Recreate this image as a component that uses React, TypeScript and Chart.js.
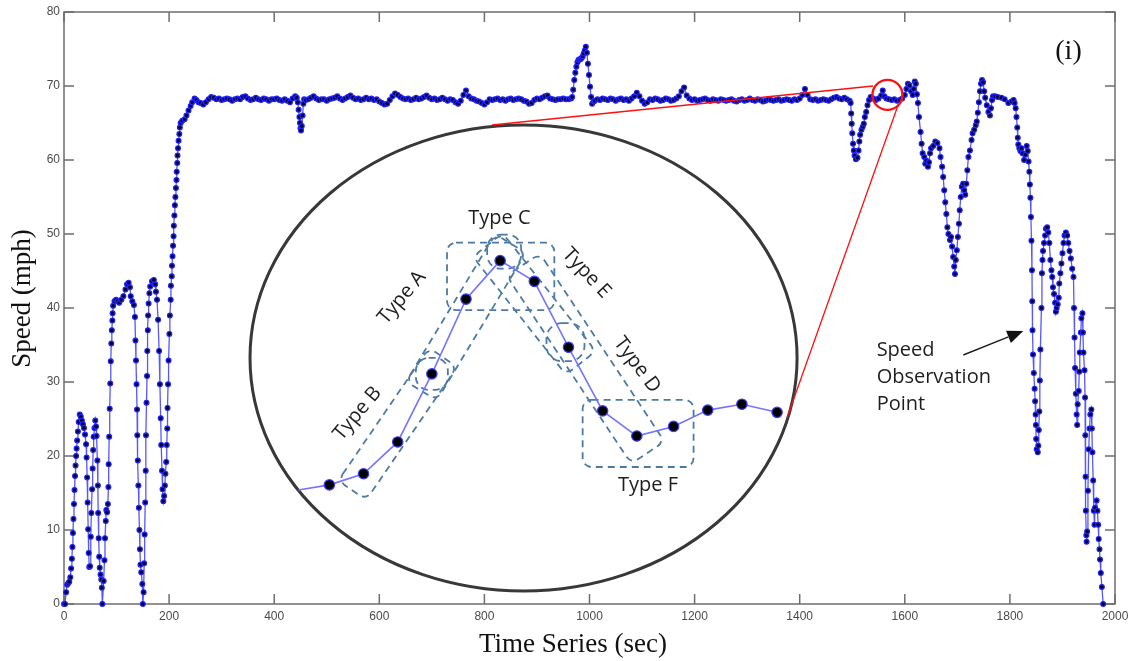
import React, { useEffect, useRef } from 'react';
import { Chart, registerables } from 'chart.js';

Chart.register(...registerables);

// ---------------- data (time in sec, speed in mph) ----------------
const xTickValues = [0, 200, 400, 600, 800, 1000, 1200, 1400, 1600, 1800, 2000];
const yTickValues = [0, 10, 20, 30, 40, 50, 60, 70, 80];

const launchTimes = [
  0, 2, 4, 6, 8, 10, 12, 13.5, 15, 16,
  17, 18, 19, 20, 21, 22, 23, 24, 25, 26.5,
  28, 30, 32, 34, 36, 38, 40, 42, 43, 44,
  45, 46, 47, 48, 49.5, 51, 52, 53.5, 54.5, 55.5,
  56.5, 58, 59.5, 61, 62, 63.5, 64.5, 65, 66, 67,
  68, 69.5, 71, 72, 73, 75.5, 77, 78, 79.5, 80.5,
  82, 83.5, 84.5, 85, 86, 87, 88, 89, 90, 91,
  92, 92.5, 93.5, 96, 99, 102, 105, 109, 113, 117,
  120, 123, 125.5, 127, 130, 133, 135, 136, 137, 138,
  139, 139.5, 140.5, 141.5, 142.5, 143.5, 144.5, 145.5, 147, 149,
  150, 151.5, 152.5, 153.5, 154.5, 155.5, 156, 157, 158, 158.5,
  159.5, 160, 161, 162.5, 164, 167.5, 171, 173.5, 175, 177,
  179, 181, 182.5, 184, 185, 186.5, 187.5, 189, 190.5, 192,
  193, 194.5, 195.5, 196.5, 197, 198, 199, 200.5, 201.5, 203,
  203.5, 205, 205.5, 206.5, 207.5, 208.5, 209, 210, 211, 212,
  213, 214, 214.5, 215.5, 216, 217, 218, 219.5, 220.5, 222,
  225, 229.5, 233, 237, 241, 244, 248.5, 252, 256,
];
const launchSpeeds = [
  0, 0, 1.6, 2.6, 2.8, 3.0, 3.6, 4.8, 6.1, 7.7,
  9.6, 11.5, 13.5, 15.4, 17.3, 18.7, 20.0, 21.0, 22.1, 23.3,
  24.6, 25.6, 25.3, 24.8, 24.3, 23.8, 22.9, 21.6, 19.8, 17.1,
  13.7, 10.1, 6.9, 5.0, 5.1, 9.1, 12.3, 15.5, 18.3, 20.8,
  22.6, 23.8, 24.8, 24.0, 22.7, 19.4, 16.0, 12.3, 8.9, 6.4,
  4.9, 4.0, 3.3, 2.2, 0, 3.1, 5.9, 8.9, 11.2, 12.7,
  12.4, 13.5, 15.8, 18.9, 22.6, 26.4, 29.8, 32.8, 35.2, 37.0,
  38.3, 39.3, 40.3, 40.9, 41.1, 40.9, 40.7, 41.1, 41.6, 42.5,
  43.2, 43.4, 42.8, 41.6, 40.9, 40.4, 38.8, 35.6, 32.9, 29.7,
  26.3, 22.8, 19.4, 16.0, 13.0, 10.0, 7.4, 5.3, 4.3, 2.7,
  0, 1.6, 5.5, 9.4, 13.7, 18.0, 22.8, 27.2, 30.8, 34.2,
  37.0, 39.0, 40.6, 42.0, 42.9, 43.6, 43.8, 43.2, 42.2, 41.1,
  38.4, 34.2, 29.7, 25.1, 21.5, 18.0, 15.5, 13.9, 14.6, 16.0,
  17.6, 19.2, 21.5, 23.7, 26.5, 29.7, 32.9, 36.5, 39.0, 41.1,
  43.0, 44.3, 45.7, 47.0, 48.4, 49.7, 51.1, 52.5, 53.9, 55.0,
  56.2, 57.3, 58.4, 59.6, 60.6, 61.6, 62.6, 63.5, 64.4, 65.0,
  65.3, 65.5, 66.0, 66.7, 67.3, 67.8, 68.3, 68.1, 67.8,
];

const cruiseStep = 5;
const cruise1Start = 260;
const cruise1Speeds = [
  67.7, 67.5, 67.8, 68.2, 68.5, 68.4, 68.2, 68.3, 68.1, 68.2,
  68.3, 68.2, 68.0, 68.2, 68.3, 68.2, 68.5, 68.6, 68.3, 68.1,
  68.2, 68.4, 68.2, 68.1, 68.3, 68.2, 68.0, 68.2, 68.2, 68.3,
  68.1, 68.0, 68.2, 68.0, 67.8, 68.3, 68.6,
];

const dipTimes = [443, 445, 446.5, 448, 449, 450, 451, 452.5, 454, 455.5, 457];
const dipSpeeds = [68.4, 67.8, 66.8, 65.8, 65.0, 64.3, 64.0, 64.6, 66.0, 67.6, 68.2];

const cruise2Start = 460;
const cruise2Speeds = [
  68.1, 68.2, 68.4, 68.6, 68.3, 68.1, 68.2, 68.2, 68.0, 68.2,
  68.3, 68.4, 68.6, 68.3, 68.1, 68.3, 68.5, 68.7, 68.4, 68.2,
  68.3, 68.1, 68.2, 68.4, 68.2, 68.3, 68.1, 68.2, 67.9, 67.7,
  67.5, 67.6, 68.1, 68.6, 69.0, 68.8, 68.5, 68.3, 68.2, 68.3,
  68.1, 68.2, 68.4, 68.2, 68.3, 68.5, 68.7, 68.4, 68.2, 68.3,
  68.1, 68.2, 68.4, 68.2, 68.0, 68.2, 68.1, 67.8, 67.6, 68.0,
  68.8, 69.4, 68.6, 68.3, 68.2, 68.0, 67.9, 67.7, 67.5, 67.8,
  68.2, 68.1, 68.2, 68.3, 68.1, 68.2, 68.0, 68.2, 68.3, 68.1,
  68.2, 68.3, 68.2, 68.0, 67.9, 67.6, 67.7, 68.1, 68.3, 68.2,
  68.4, 68.6, 68.7, 68.3, 68.2, 68.1, 68.2, 68.2, 68.3, 68.2,
  68.2, 68.3,
];

const spikeTimes = [967, 969, 971, 973, 975, 977, 979, 981, 983, 985, 987, 989, 991, 993, 995, 997, 999, 1001, 1003, 1005, 1008];
const spikeSpeeds = [68.5, 69.5, 70.8, 71.8, 72.6, 73.2, 73.5, 73.6, 73.6, 73.8, 74.0, 74.4, 74.8, 75.3, 74.5, 73.0, 71.5, 69.9, 68.5, 67.6, 67.9];

const cruise3Start = 1010;
const cruise3Speeds = [
  68.0, 68.2, 68.1, 68.3, 68.2, 68.1, 68.3, 68.2, 68.0, 68.2,
  68.3, 68.1, 68.2, 68.0, 68.3, 68.6, 69.1, 68.6, 68.0, 67.6,
  67.8, 68.2, 68.1, 68.3, 68.2, 68.0, 68.1, 68.3, 68.2, 68.0,
  68.1, 68.3, 68.6, 69.3, 69.8, 68.7, 68.3, 68.1, 68.2, 68.0,
  68.1, 68.2, 68.3, 68.1, 68.0, 68.2, 68.1, 68.0, 68.2, 68.1,
  68.0, 68.1, 68.2, 68.0, 67.9, 68.1, 68.2, 68.0, 68.1, 68.3,
  68.1, 68.0, 68.2, 68.1, 67.9, 68.0, 68.2, 68.1, 68.0, 68.1,
  68.2, 68.0, 68.1, 68.2, 68.1, 68.0, 68.2, 68.1, 68.3, 68.8,
  69.6, 68.8, 68.2, 68.1, 68.2, 68.0, 68.1, 68.2, 68.1, 68.0,
  68.2, 68.4, 68.5, 68.3, 68.2, 68.4, 68.2, 68.0,
];

const exitTimes = [
  1497, 1498, 1499, 1500, 1501.5, 1503, 1504.5, 1507, 1510, 1512,
  1513.5, 1515, 1517.5, 1520, 1522, 1524, 1526.5, 1529, 1532, 1535,
  1540, 1545, 1550, 1555, 1558, 1561, 1565, 1570, 1575, 1580,
  1585, 1590, 1595, 1600, 1603, 1606, 1609, 1612, 1615, 1617,
  1619, 1621, 1623, 1625, 1627, 1630, 1632, 1634, 1637, 1639,
  1641, 1644, 1646, 1648, 1650, 1654, 1658, 1662, 1666, 1668,
  1671, 1673, 1675, 1677, 1679, 1681, 1683, 1686, 1688, 1690,
  1692, 1694, 1695.5, 1697, 1699, 1701, 1703, 1704.5, 1706.5, 1708.5,
  1711, 1713, 1715, 1717, 1719, 1721, 1724, 1727, 1729, 1732,
  1735, 1737, 1739, 1741, 1743, 1745, 1747, 1749, 1751, 1753,
  1756, 1759, 1762, 1764, 1766, 1768, 1772, 1777, 1784, 1790,
  1797, 1803, 1807, 1809, 1811, 1812.5, 1814, 1815, 1816, 1818,
  1820, 1822, 1824, 1827, 1829.5, 1832, 1834, 1835.5, 1837, 1838,
  1839, 1840, 1841, 1842, 1842.5, 1843, 1844, 1845.5, 1847, 1848,
  1849, 1849.5, 1850, 1851, 1853, 1854, 1855, 1856, 1857, 1858,
  1860, 1861, 1862, 1863, 1865, 1867, 1868.5, 1871, 1873, 1875,
  1877, 1879, 1880.5, 1882, 1884, 1886, 1887.5, 1889, 1891, 1893,
  1894, 1896, 1898, 1900, 1902, 1904, 1906.5, 1909, 1911, 1913.5,
  1916, 1918.5, 1921, 1922, 1923, 1924, 1925.5, 1927, 1928, 1929,
  1931, 1932, 1933, 1935, 1936, 1938, 1939, 1940, 1942, 1943,
  1943.5, 1944, 1944.5, 1945.5, 1946, 1947, 1948.5, 1950, 1951.5, 1953,
  1955, 1956, 1957, 1958.5, 1959.5, 1961, 1962, 1965, 1966.5, 1968,
  1969, 1970.5, 1971.5, 1973, 1975, 1977.5,
];
const exitSpeeds = [
  67.7, 66.3, 64.9, 63.6, 62.2, 61.3, 60.6, 60.1, 60.3, 61.3,
  62.5, 63.4, 64.1, 64.5, 64.9, 65.8, 66.5, 67.4, 68.1, 68.5,
  68.3, 68.1, 68.3, 68.7, 69.4, 68.6, 68.3, 68.2, 68.1, 68.2,
  68.0, 68.1, 68.3, 68.8, 69.6, 70.3, 70.1, 69.3, 68.8, 69.6,
  70.6, 70.3, 68.9, 67.7, 65.8, 63.8, 62.2, 60.9, 60.4, 59.5,
  59.9, 59.1, 59.7, 60.9, 61.6, 61.9, 62.5, 62.3, 61.6, 60.4,
  59.1, 57.7, 55.9, 54.3, 52.7, 50.9, 50.0, 49.2, 49.6, 48.3,
  46.9, 45.6, 44.6, 46.5, 47.8, 49.6, 51.4, 53.2, 55.0, 56.4,
  56.8, 55.9, 55.3, 56.8, 58.6, 60.4, 61.3, 62.7, 63.6, 64.1,
  64.7, 65.2, 66.4, 67.8, 69.3, 70.3, 70.8, 70.5, 69.3, 68.4,
  67.4, 66.5, 66.0, 67.0, 68.1, 68.6, 68.6, 68.5, 68.4, 68.2,
  67.7, 67.9, 68.1, 67.7, 67.0, 65.8, 64.4, 63.0, 62.1, 61.6,
  61.2, 61.6, 60.9, 60.0, 60.7, 61.9, 61.2, 59.8, 58.4, 56.7,
  54.9, 52.3, 49.1, 45.1, 40.9, 37.0, 33.7, 31.2, 29.1, 27.4,
  25.6, 24.2, 22.3, 20.9, 20.5, 21.4, 23.5, 26.0, 30.2, 34.4,
  40.0, 44.7, 46.5, 47.7, 48.8, 49.8, 50.7, 50.9, 50.2, 48.8,
  46.5, 45.1, 44.2, 42.8, 41.9, 40.7, 39.5, 40.0, 40.5, 41.4,
  43.3, 44.7, 46.0, 47.4, 48.8, 49.8, 50.2, 49.8, 48.8, 47.7,
  46.7, 45.3, 44.2, 40.0, 36.0, 31.9, 28.4, 25.6, 24.2, 27.0,
  28.8, 31.4, 34.0, 36.7, 38.6, 39.3, 36.7, 34.0, 31.6, 27.9,
  22.8, 17.2, 12.6, 9.3, 8.4, 9.8, 15.3, 20.9, 23.7, 25.6,
  26.3, 23.7, 20.5, 16.7, 12.6, 10.7, 13.0, 14.0, 12.6, 10.7,
  8.8, 7.4, 6.0, 4.2, 2.3, 0,
];

// magnified inset (drawn in the same time/speed frame)
const insetTimes = [446, 505, 570, 635, 700, 765, 830, 895, 960, 1025, 1090, 1160, 1225, 1290, 1357];
const insetSpeeds = [15.4, 16.1, 17.6, 21.9, 31.1, 41.2, 46.4, 43.6, 34.7, 26.1, 22.7, 24.0, 26.2, 27.0, 25.9];

const typeLabels = ['Type C', 'Type A', 'Type B', 'Type E', 'Type D', 'Type F'];
const noteLines = ['Speed', 'Observation', 'Point'];

// ---------------- helpers ----------------
const paired = (times: number[], values: number[]) => times.map((t, i) => ({ x: t, y: values[i] }));
const stepped = (start: number, step: number, values: number[]) => values.map((v, i) => ({ x: start + i * step, y: v }));

const speedSeries = [
  ...paired(launchTimes, launchSpeeds),
  ...stepped(cruise1Start, cruiseStep, cruise1Speeds),
  ...paired(dipTimes, dipSpeeds),
  ...stepped(cruise2Start, cruiseStep, cruise2Speeds),
  ...paired(spikeTimes, spikeSpeeds),
  ...stepped(cruise3Start, cruiseStep, cruise3Speeds),
  ...paired(exitTimes, exitSpeeds),
];
const insetSeries = paired(insetTimes, insetSpeeds);

function rotBox(ctx: CanvasRenderingContext2D, a: any, b: any, ext: number, hw: number, r: number) {
  const dx = b.x - a.x, dy = b.y - a.y;
  const len = Math.hypot(dx, dy);
  ctx.save();
  ctx.translate((a.x + b.x) / 2, (a.y + b.y) / 2);
  ctx.rotate(Math.atan2(dy, dx));
  ctx.beginPath();
  ctx.roundRect(-len / 2 - ext, -hw, len + 2 * ext, 2 * hw, r);
  ctx.stroke();
  ctx.restore();
}

function boundsBox(ctx: CanvasRenderingContext2D, pts: any[], pl: number, pt: number, pr: number, pb: number, r: number) {
  const xs = pts.map((p) => p.x), ys = pts.map((p) => p.y);
  const x0 = Math.min(...xs) - pl, x1 = Math.max(...xs) + pr;
  const y0 = Math.min(...ys) - pt, y1 = Math.max(...ys) + pb;
  ctx.beginPath();
  ctx.roundRect(x0, y0, x1 - x0, y1 - y0, r);
  ctx.stroke();
}

const overlayPlugin = {
  id: 'overlay',
  beforeDatasetsDraw(chart: any) {
    const { ctx, chartArea: a, scales } = chart;
    const X = (t: number) => scales.x.getPixelForValue(t);
    const Y = (v: number) => scales.y.getPixelForValue(v);
    ctx.save();
    // frame + inward ticks
    ctx.strokeStyle = '#6e6e6e';
    ctx.lineWidth = 1.5;
    ctx.strokeRect(a.left, a.top, a.right - a.left, a.bottom - a.top);
    ctx.beginPath();
    xTickValues.forEach((t) => {
      const px = X(t);
      ctx.moveTo(px, a.bottom); ctx.lineTo(px, a.bottom - 10);
      ctx.moveTo(px, a.top); ctx.lineTo(px, a.top + 10);
    });
    yTickValues.forEach((v) => {
      const py = Y(v);
      ctx.moveTo(a.left, py); ctx.lineTo(a.left + 10, py);
      ctx.moveTo(a.right, py); ctx.lineTo(a.right - 10, py);
    });
    ctx.stroke();

    // inset ellipse
    const ex0 = X(354), ex1 = X(1395), ey0 = Y(64.73), ey1 = Y(1.76);
    ctx.beginPath();
    ctx.ellipse((ex0 + ex1) / 2, (ey0 + ey1) / 2, (ex1 - ex0) / 2, (ey1 - ey0) / 2, 0, 0, Math.PI * 2);
    ctx.strokeStyle = '#383838';
    ctx.lineWidth = 3;
    ctx.stroke();

    // dashed pattern boxes around inset points
    const P = chart.getDatasetMeta(1).data.map((e: any) => ({ x: e.x, y: e.y }));
    ctx.strokeStyle = '#4d7aa2';
    ctx.lineWidth = 1.8;
    ctx.setLineDash([7, 5]);
    rotBox(ctx, P[2], P[4], 20, 17, 8);   // Type B
    rotBox(ctx, P[4], P[6], 20, 18, 8);   // Type A
    rotBox(ctx, P[6], P[8], 20, 19, 8);   // Type E
    rotBox(ctx, P[7], P[10], 20, 20, 8);  // Type D
    boundsBox(ctx, [P[5], P[6], P[7]], 19, 18, 20, 11, 9);   // Type C
    boundsBox(ctx, [P[9], P[10], P[11]], 20, 11, 20, 31, 9); // Type F
    // small rounded markers
    [[P[4], 0, 0, 16], [P[6], 4, -9, 17], [P[8], -3, -5, 19]].forEach(([p, ox, oy, r]: any) => {
      ctx.beginPath();
      ctx.roundRect(p.x + ox - r, p.y + oy - r, 2 * r, 2 * r, r * 0.8);
      ctx.stroke();
    });
    ctx.setLineDash([]);
    ctx.restore();
  },
  afterDatasetsDraw(chart: any) {
    const { ctx, scales } = chart;
    const X = (t: number) => scales.x.getPixelForValue(t);
    const Y = (v: number) => scales.y.getPixelForValue(v);
    ctx.save();
    // red leader lines + callout circle
    ctx.strokeStyle = '#ff1010';
    ctx.lineWidth = 1.3;
    ctx.beginPath();
    ctx.moveTo(X(814.5), Y(64.73)); ctx.lineTo(X(1539.5), Y(70.0));
    ctx.moveTo(X(1588), Y(67.57)); ctx.lineTo(X(1375.8), Y(25.14));
    ctx.stroke();
    ctx.lineWidth = 2.4;
    ctx.beginPath();
    ctx.arc(X(1567), Y(68.8), 15, 0, Math.PI * 2);
    ctx.stroke();

    // type labels
    ctx.fillStyle = '#1e1e1e';
    ctx.font = '20px "Open Sans"';
    ctx.textAlign = 'center';
    ctx.textBaseline = 'middle';
    const spots = [[828.7, 52.16, 0], [643.2, 41.42, -50], [558.5, 25.74, -50], [994.3, 44.73, 47], [1090.4, 32.3, 53], [1111.3, 16.08, 0]];
    typeLabels.forEach((txt, i) => {
      const [t, v, deg] = spots[i];
      ctx.save();
      ctx.translate(X(t), Y(v));
      ctx.rotate((deg * Math.PI) / 180);
      ctx.fillText(txt, 0, 0);
      ctx.restore();
    });

    // observation note
    ctx.textAlign = 'left';
    [34.3, 30.65, 27.0].forEach((v, i) => ctx.fillText(noteLines[i], X(1546.4), Y(v)));

    // arrow
    const tx = X(1711.3), ty = Y(33.65), hx = X(1825.5), hy = Y(36.9);
    const ang = Math.atan2(hy - ty, hx - tx);
    const hl = 16, hwid = 6.5;
    const bx = hx - hl * Math.cos(ang), by = hy - hl * Math.sin(ang);
    ctx.strokeStyle = '#1e1e1e';
    ctx.lineWidth = 1.4;
    ctx.beginPath(); ctx.moveTo(tx, ty); ctx.lineTo(bx, by); ctx.stroke();
    ctx.beginPath();
    ctx.moveTo(hx, hy);
    ctx.lineTo(bx + hwid * Math.sin(ang), by - hwid * Math.cos(ang));
    ctx.lineTo(bx - hwid * Math.sin(ang), by + hwid * Math.cos(ang));
    ctx.closePath();
    ctx.fillStyle = '#111';
    ctx.fill();

    // panel tag
    ctx.textAlign = 'center';
    ctx.font = '28px "Liberation Serif"';
    ctx.fillText('(i)', X(1911.5), Y(74.7));
    ctx.restore();
  },
  afterDraw(chart: any) {
    const { ctx, chartArea: a } = chart;
    ctx.save();
    ctx.fillStyle = '#111';
    ctx.font = '27px "Liberation Serif"';
    ctx.textAlign = 'center';
    ctx.textBaseline = 'middle';
    ctx.fillText('Time Series (sec)', a.left + 509, a.bottom + 41);
    ctx.translate(a.left - 41.5, a.top + 286.5);
    ctx.rotate(-Math.PI / 2);
    ctx.fillText('Speed (mph)', 0, 0);
    ctx.restore();
  },
};

export default function App() {
  const ref = useRef<HTMLCanvasElement | null>(null);
  useEffect(() => {
    document.body.style.margin = '0';
    const canvas = ref.current;
    if (!canvas) return;
    const tickFont = { family: '"Liberation Sans", Arial, sans-serif', size: 12 };
    const chart = new Chart(canvas, {
      type: 'scatter',
      data: {
        datasets: [
          {
            data: speedSeries,
            showLine: true,
            borderColor: 'rgba(45,45,255,0.8)',
            borderWidth: 1.3,
            pointRadius: 2.4,
            pointBackgroundColor: '#00002e',
            pointBorderColor: '#2222ff',
            pointBorderWidth: 1.2,
            clip: false,
          } as any,
          {
            data: insetSeries,
            showLine: true,
            borderColor: '#7474ff',
            borderWidth: 1.6,
            pointRadius: (c: any) => (c.dataIndex === 0 ? 0 : 5.2),
            pointBackgroundColor: '#000000',
            pointBorderColor: '#3a3aff',
            pointBorderWidth: 1.2,
            clip: false,
          } as any,
        ],
      },
      options: {
        animation: false,
        responsive: false,
        devicePixelRatio: 1,
        layout: { padding: { left: 0, top: 12, right: 15, bottom: 0 } },
        plugins: { legend: { display: false }, tooltip: { enabled: false } },
        scales: {
          x: {
            type: 'linear',
            min: 0,
            max: 2000,
            afterBuildTicks: (s: any) => { s.ticks = xTickValues.map((value) => ({ value })); },
            afterFit: (s: any) => { s.height = 57; s.paddingLeft = 0; s.paddingRight = 0; },
            grid: { display: false, drawTicks: false },
            border: { display: false },
            ticks: { font: tickFont, color: '#4a4a4a', padding: 5, maxRotation: 0, autoSkip: false, callback: (v: any) => String(v) },
          },
          y: {
            type: 'linear',
            min: 0,
            max: 80,
            afterBuildTicks: (s: any) => { s.ticks = yTickValues.map((value) => ({ value })); },
            afterFit: (s: any) => { s.width = 64; s.paddingTop = 0; s.paddingBottom = 0; },
            grid: { display: false, drawTicks: false },
            border: { display: false },
            ticks: { font: tickFont, color: '#4a4a4a', padding: 4, autoSkip: false, callback: (v: any) => String(v) },
          },
        },
      } as any,
      plugins: [overlayPlugin],
    });
    return () => chart.destroy();
  }, []);
  return (
    <div style={{ width: 1130, height: 661 }}>
      <canvas ref={ref} width={1130} height={661} />
    </div>
  );
}
